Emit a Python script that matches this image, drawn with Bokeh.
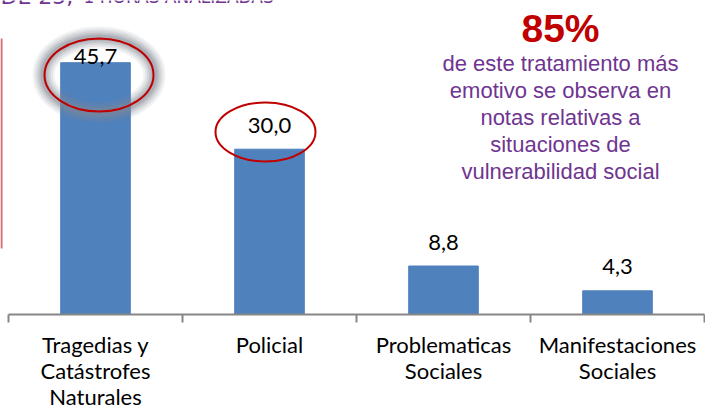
from bokeh.plotting import figure
from bokeh.models import Range1d, FixedTicker, Label
from bokeh.core.properties import value
from bokeh.embed import file_html
from bokeh.resources import INLINE

# ---- data ----
categories = ["Tragedias y\nCatástrofes\nNaturales", "Policial",
              "Problematicas\nSociales", "Manifestaciones\nSociales"]
values = [45.7, 30.0, 8.8, 4.3]
value_labels = ["45,7", "30,0", "8,8", "4,3"]
highlight_text = "85%"
note_lines = ["de este tratamiento más", "emotivo se observa en",
              "notas relativas a", "situaciones de", "vulnerabilidad social"]
header_big = "DE 25,"
header_small = "1 HORAS ANALIZADAS"

# ---- layout helpers (pixel -> data) ----
W, H = 705, 414
X0, CW = 8, 174          # left category boundary, px per category
BASE, SCALE = 314, 5.51  # axis pixel row, px per unit


def dx(px):
    return (px - X0) / CW


def dy(py):
    return (BASE - py) / SCALE


BLUE = "#4f81bd"
RED = "#c00000"
PURPLE = "#6f3590"
GREY = "#868686"

p = figure(width=W, height=H, output_backend="svg", toolbar_location=None,
           x_range=Range1d(dx(0), dx(W)), y_range=Range1d(0, dy(0)),
           min_border_left=0, min_border_right=0, min_border_top=0,
           min_border_bottom=H - BASE, y_axis_location=None)
p.outline_line_color = None
p.grid.visible = False
p.background_fill_color = "white"
p.border_fill_color = "white"

centers = [i + 0.5 for i in range(len(categories))]

# bars
p.vbar(x=centers, top=values, width=0.4, color=BLUE)

# glow around first ellipse
for lw, a in [(22, 0.11), (18, 0.13), (14, 0.17), (10, 0.24), (6, 0.32)]:
    p.ellipse(x=dx(98.5), y=dy(74.5), width=111 / CW, height=75 / SCALE,
              fill_color=None, line_color="#848994", line_width=lw, line_alpha=a)

# red ellipses
p.ellipse(x=dx(98.5), y=dy(74.5), width=109 / CW, height=73 / SCALE,
          fill_color=None, line_color=RED, line_width=2)
p.ellipse(x=dx(265), y=dy(131.5), width=100 / CW, height=59 / SCALE,
          fill_color=None, line_color=RED, line_width=2)

# value labels
p.text(x=centers[:1], y=values[:1], text=value_labels[:1], y_offset=-6,
       text_align="center", text_baseline="alphabetic",
       text_font=value("Lato"), text_font_size="22px", text_color="black")
p.text(x=centers[1:], y=values[1:], text=value_labels[1:], y_offset=-24,
       text_align="center", text_baseline="alphabetic",
       text_font=value("Lato"), text_font_size="22px", text_color="black")

# red vertical line on the left
p.segment(x0=[dx(1)], y0=[dy(38)], x1=[dx(1)], y1=[dy(248)],
          line_color="#d86a6a", line_width=2)

# header (cut off at top)
p.add_layout(Label(x=dx(0), y=dy(-4), text=header_big, text_font="DejaVu Sans",
                   text_font_size="22px", text_color=PURPLE,
                   text_baseline="alphabetic", text_align="left"))
p.add_layout(Label(x=dx(83), y=dy(-4), text=header_small, text_font="DejaVu Sans",
                   text_font_size="17px", text_color=PURPLE,
                   text_baseline="alphabetic", text_align="left"))

# right annotation
p.add_layout(Label(x=dx(560), y=dy(28), text=highlight_text,
                   text_font="Liberation Sans", text_font_style="bold",
                   text_font_size="39px", text_color=RED,
                   text_baseline="alphabetic", text_align="center"))
p.text(x=[dx(560)] * len(note_lines),
       y=[dy(63 + 27 * i) for i in range(len(note_lines))],
       text=note_lines, text_align="center", text_baseline="alphabetic",
       text_font=value("Liberation Sans"), text_font_size="22px",
       text_color=PURPLE)

# category axis
ax = p.xaxis[0]
ax.ticker = FixedTicker(ticks=centers, minor_ticks=[0, 1, 2, 3, 4])
ax.major_label_overrides = {c: lab for c, lab in zip(centers, categories)}
ax.bounds = (0, 4)
ax.axis_line_color = GREY
ax.axis_line_width = 2
ax.major_tick_line_color = None
ax.major_tick_out = 8
ax.major_tick_in = 0
ax.minor_tick_line_color = GREY
ax.minor_tick_line_width = 2
ax.minor_tick_out = 8
ax.minor_tick_in = 0
ax.major_label_text_font = "Lato"
ax.major_label_text_font_size = "22px"
ax.major_label_text_color = "black"
ax.major_label_text_line_height = 0.98
ax.major_label_standoff = 8

open("out.html", "w").write(file_html(p, INLINE))
